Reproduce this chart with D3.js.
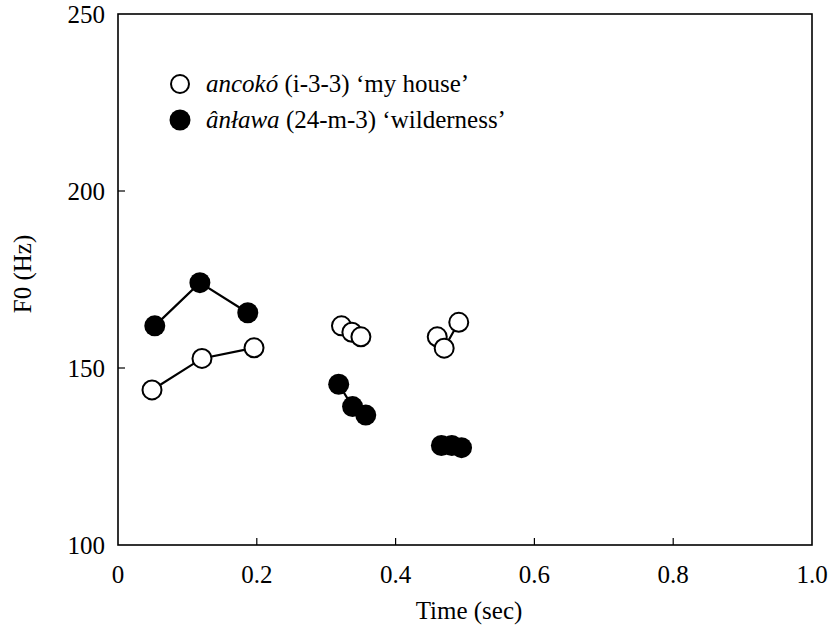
<!DOCTYPE html>
<html><head><meta charset="utf-8">
<script src="https://cdn.jsdelivr.net/npm/d3@7"></script>
<style>body{margin:0;background:#fff}svg text{font-family:"Liberation Serif","Times New Roman",serif;fill:#000}</style>
</head><body>
<svg id="c" width="836" height="627"></svg>
<script>
// Data (time in sec, F0 in Hz); groups are separately connected segments
const openTime = [[0.049,0.121,0.196],[0.322,0.337,0.350],[0.460,0.470,0.491]];
const openF0   = [[143.8,152.7,155.7],[161.9,160.1,158.8],[158.8,155.6,162.9]];
const filledTime = [[0.053,0.118,0.187],[0.318,0.338,0.357],[0.466,0.481,0.495]];
const filledF0   = [[161.9,174.1,165.6],[145.4,139.1,136.7],[128.1,128.1,127.5]];
const xTicks = [0,0.2,0.4,0.6,0.8,1.0];
const xTickLabels = ["0","0.2","0.4","0.6","0.8","1.0"];
const yTicks = [100,150,200,250];
const legendLabels = [
  {italic:"ancokó", rest:" (i-3-3) \u2018my house\u2019", filled:false},
  {italic:"ânława", rest:" (24-m-3) \u2018wilderness\u2019", filled:true}
];

const svg = d3.select("#c");
const L=118, R=812, T=14, B=545;
const x = d3.scaleLinear().domain([0,1]).range([L,R]);
const y = d3.scaleLinear().domain([100,250]).range([B,T]);
const fs = 25;

// frame
svg.append("rect").attr("x",L).attr("y",T).attr("width",R-L).attr("height",B-T)
  .attr("fill","none").attr("stroke","#000").attr("stroke-width",1.6);

// inward ticks
svg.selectAll(".xt").data(xTicks.slice(1,-1)).enter().append("line")
  .attr("x1",d=>x(d)).attr("x2",d=>x(d)).attr("y1",B).attr("y2",B-7)
  .attr("stroke","#000").attr("stroke-width",1.2);
svg.selectAll(".yt").data(yTicks.slice(1,-1)).enter().append("line")
  .attr("y1",d=>y(d)).attr("y2",d=>y(d)).attr("x1",L).attr("x2",L+7)
  .attr("stroke","#000").attr("stroke-width",1.2);

// tick labels
svg.selectAll(".xl").data(xTicks).enter().append("text")
  .attr("x",d=>x(d)).attr("y",B+38).attr("text-anchor","middle")
  .style("font-size",fs+"px").text((d,i)=>xTickLabels[i]);
svg.selectAll(".yl").data(yTicks).enter().append("text")
  .attr("x",L-13).attr("y",d=>y(d)+9).attr("text-anchor","end")
  .style("font-size",fs+"px").text(d=>d);

// axis titles
svg.append("text").attr("x",x(0.5)+4).attr("y",B+74).attr("text-anchor","middle")
  .style("font-size",fs+"px").text("Time (sec)");
svg.append("text").attr("transform",`translate(${L-87},274) rotate(-90)`)
  .attr("text-anchor","middle").style("font-size",fs+"px").text("F0 (Hz)");

const line = d3.line().x(d=>x(d[0])).y(d=>y(d[1]));
function drawSeries(times, f0s, filled){
  times.forEach((ts,gi)=>{
    const pts = ts.map((t,i)=>[t,f0s[gi][i]]);
    svg.append("path").attr("d",line(pts)).attr("fill","none")
      .attr("stroke","#000").attr("stroke-width",2.2);
  });
  times.forEach((ts,gi)=>{
    const pts = ts.map((t,i)=>[t,f0s[gi][i]]);
    svg.selectAll(null).data(pts).enter().append("circle")
      .attr("cx",d=>x(d[0])).attr("cy",d=>y(d[1])).attr("r",filled?10.5:9.5)
      .attr("fill",filled?"#000":"#fff").attr("stroke","#000").attr("stroke-width",filled?0:2);
  });
}
drawSeries(filledTime, filledF0, true);
drawSeries(openTime, openF0, false);

// legend
legendLabels.forEach((d,i)=>{
  const cy = 84 + i*36;
  svg.append("circle").attr("cx",180).attr("cy",cy).attr("r",d.filled?10.5:9)
    .attr("fill",d.filled?"#000":"#fff").attr("stroke","#000").attr("stroke-width",d.filled?0:2);
  const t = svg.append("text").attr("x",206).attr("y",cy+8).style("font-size",fs+"px");
  t.append("tspan").style("font-style","italic").text(d.italic);
  t.append("tspan").text(d.rest);
});
</script>
</body></html>
